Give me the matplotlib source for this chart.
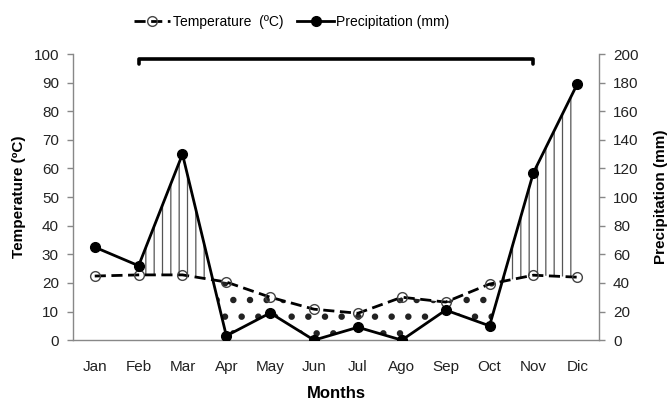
import matplotlib
matplotlib.use("Agg")
import matplotlib.pyplot as plt
import numpy as np

months = ["Jan", "Feb", "Mar", "Apr", "May", "Jun", "Jul", "Ago", "Sep", "Oct", "Nov", "Dic"]
temperature = [22.4, 22.8, 22.8, 20.3, 15.0, 10.8, 9.4, 15.0, 13.3, 19.6, 22.7, 22.0]
precipitation = [65, 52, 130, 3, 19, 0, 9, 0, 21, 10, 117, 179]

plt.rcParams['font.family'] = ['Liberation Sans', 'DejaVu Sans']
plt.rcParams['hatch.linewidth'] = 0.9

fig = plt.figure(figsize=(6.68, 4.03), dpi=100)
ax = fig.add_axes([0.109, 0.156, 0.788, 0.710])
ax2 = ax.twinx()

x = np.arange(len(months))
t = np.array(temperature)
p = np.array(precipitation)
ps = p / 2.0

# hatching from Feb onward
xs, ts, pss = x[1:], t[1:], ps[1:]
ax.fill_between(xs, ts, pss, where=pss >= ts, interpolate=True,
                facecolor='none', edgecolor='#555555', hatch='||', linewidth=0, zorder=1)
dots = ax.fill_between(xs, ts, pss, where=pss <= ts, interpolate=True,
                       facecolor='none', edgecolor='#222222', hatch='.', linewidth=0, zorder=1)
if hasattr(dots, 'set_hatch_linewidth'):
    dots.set_hatch_linewidth(2.2)

lt, = ax.plot(x, t, linestyle=(0, (4, 2)), color='black', lw=2.0,
              marker='o', markersize=7, markerfacecolor='none',
              markeredgecolor='#444444', markeredgewidth=1.0, zorder=3)
lp, = ax2.plot(x, p, linestyle='-', color='black', lw=2.0,
               marker='o', markersize=7, markerfacecolor='black',
               markeredgecolor='black', zorder=3)

# bracket Feb - Nov
ax.plot([1, 1, 10, 10], [96.5, 98.2, 98.2, 96.5], color='black', lw=2.6,
        solid_joinstyle='round', solid_capstyle='round', zorder=4)

ax.set_xlim(-0.5, 11.5)
ax.set_ylim(0, 100)
ax2.set_ylim(0, 200)
ax.set_yticks(np.arange(0, 101, 10))
ax2.set_yticks(np.arange(0, 201, 20))
ax.set_xticks(x)
ax.set_xticklabels(months)

grey = '#888888'
for a in (ax, ax2):
    a.spines['top'].set_visible(False)
    for s in ('left', 'right', 'bottom'):
        a.spines[s].set_color(grey)
        a.spines[s].set_linewidth(1.0)
ax.spines['right'].set_visible(False)
ax2.spines['left'].set_visible(False)
ax2.spines['bottom'].set_visible(False)

ax.tick_params(axis='y', colors=grey, labelcolor='#222222', labelsize=11, length=4, width=1, pad=6)
ax2.tick_params(axis='y', colors=grey, labelcolor='#222222', labelsize=11, length=4, width=1, pad=6)
ax.tick_params(axis='x', length=0, labelsize=11, labelcolor='#222222', pad=14)

ax.set_xlabel('Months', fontsize=12, fontweight='bold', labelpad=9)
ax.set_ylabel('Temperature (ºC)', fontsize=11, fontweight='bold', labelpad=5)
ax2.set_ylabel('Precipitation (mm)', fontsize=11, fontweight='bold', labelpad=11)

fig.legend([lt, lp], ['Temperature  (ºC)', 'Precipitation (mm)'], loc='upper center',
           bbox_to_anchor=(0.437, 0.995), ncol=2, frameon=False,
           prop={'size': 10},
           handlelength=2.6, columnspacing=1.0, handletextpad=0.2)

fig.savefig('out.png', dpi=100)
